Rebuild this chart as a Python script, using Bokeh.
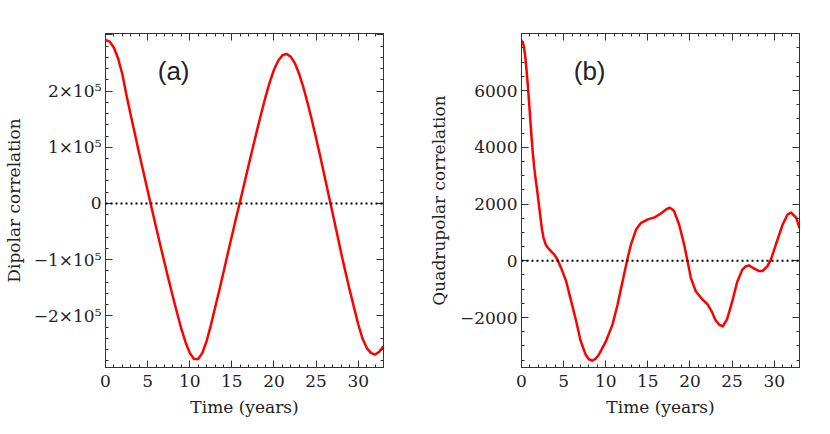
from bokeh.plotting import figure
from bokeh.layouts import row
from bokeh.models import (Range1d, LinearAxis, SingleIntervalTicker, CustomJSTickFormatter,
                          ColumnDataSource, Span)
from bokeh.core.properties import value
from bokeh.embed import file_html
from bokeh.resources import INLINE

# ---------------- data ----------------
t_dip = [0.0, 0.5, 1.0, 1.5, 2.0, 2.5, 3.0, 3.5, 4.0, 4.5, 5.0, 5.5, 6.0, 6.5, 7.0, 7.5,
         8.0, 8.5, 9.0, 9.5, 10.0, 10.5, 11.0, 11.5, 12.0, 12.5, 13.0, 13.5, 14.0, 14.5,
         15.0, 15.5, 16.0, 16.5, 17.0, 17.5, 18.0, 18.5, 19.0, 19.5, 20.0, 20.5, 21.0,
         21.5, 22.0, 22.5, 23.0, 23.5, 24.0, 24.5, 25.0, 25.5, 26.0, 26.5, 27.0, 27.5,
         28.0, 28.5, 29.0, 29.5, 30.0, 30.5, 31.0, 31.5, 32.0, 32.5, 33.0]
dipolar = [291000, 288000, 277000, 258000, 230000, 192000, 157000, 123000, 89000, 56000,
           23000, -10000, -42000, -74000, -105000, -136000, -166000, -195000, -223000,
           -247000, -266000, -277000, -277000, -266000, -245000, -217000, -186000, -155000,
           -123000, -90000, -58000, -26000, 5000, 37000, 69000, 100000, 131000, 161000,
           190000, 216000, 238000, 254000, 264000, 266000, 261000, 249000, 230000, 206000,
           178000, 148000, 116000, 83000, 49000, 14000, -20000, -55000, -90000, -123000,
           -155000, -185000, -215000, -240000, -257000, -266000, -269000, -264000, -254000]

t_quad = [0.0, 0.15, 0.3, 0.45, 0.6, 0.75, 0.9, 1.05, 1.2, 1.35, 1.5, 1.65, 1.8, 2.0, 2.2,
          2.4, 2.6, 2.8, 3.0, 3.3, 3.6, 3.9, 4.3, 4.7,
          5.3, 5.9, 6.5, 7.0, 7.6, 8.0, 8.4, 8.8, 9.2, 10.0, 10.8, 11.4, 12.0, 12.6, 13.0,
          13.6, 14.2, 15.0, 15.8, 16.5, 17.2, 17.6, 18.1, 18.7, 19.3, 19.7, 20.1, 20.7,
          21.5, 22.1, 22.6, 23.0, 23.5, 23.9, 24.4, 25.0, 25.6, 26.2, 26.6, 27.0, 27.6,
          28.2, 28.6, 29.2, 29.6, 30.2, 31.0, 31.6, 32.0, 32.6, 33.0]
quadrupolar = [7750, 7700, 7520, 7180, 6720, 6180, 5580, 4950, 4330, 3780, 3320, 2940,
               2620, 2150, 1650, 1170, 830, 630, 510, 400, 310,
               220, 20, -250, -720, -1430, -2140, -2800, -3300, -3470, -3520, -3450, -3300,
               -2850, -2250, -1550, -720, 100, 580, 1100, 1340, 1460, 1530, 1660, 1820,
               1870, 1760, 1290, 580, 0, -600, -1080, -1370, -1540, -1800, -2080, -2260,
               -2310, -2060, -1450, -750, -320, -200, -160, -270, -360, -360, -190, 40, 580,
               1280, 1640, 1700, 1520, 1150]

dip_ticks = {300000: "", 200000: "2×10⁵", 100000: "1×10⁵", 0: "0",
             -100000: "−1×10⁵", -200000: "−2×10⁵"}
quad_ticks = {8000: "", 6000: "6000", 4000: "4000", 2000: "2000", 0: "0", -2000: "−2000"}

# ---------------- style ----------------
AX = "#333333"
SERIF = "DejaVu Serif"
FS = "17px"


def style_axis(ax, show_labels=True):
    ax.axis_line_color = AX
    ax.axis_line_width = 1
    ax.major_tick_line_color = AX
    ax.minor_tick_line_color = AX
    ax.major_tick_in = 7
    ax.major_tick_out = 0
    ax.minor_tick_in = 3
    ax.minor_tick_out = 0
    ax.major_label_text_font = SERIF
    ax.major_label_text_font_size = FS
    ax.major_label_text_color = "#222222"
    ax.axis_label_text_font = SERIF
    ax.axis_label_text_font_size = FS
    ax.axis_label_text_font_style = "normal"
    ax.axis_label_text_color = "#222222"
    if not show_labels:
        ax.formatter = CustomJSTickFormatter(code="return ''")
        ax.major_label_standoff = 0


def make_panel(t, y, yr, ytick_int, yminor, overrides, ylabel, tag, tag_x, tag_y,
               left, right, label_standoff):
    p = figure(frame_width=278, frame_height=334, output_backend="svg",
               toolbar_location=None, x_range=Range1d(0, 33), y_range=Range1d(*yr),
               x_axis_location=None, y_axis_location=None,
               min_border_left=left, min_border_right=right,
               min_border_top=33, min_border_bottom=60)
    p.xgrid.visible = False
    p.ygrid.visible = False
    p.outline_line_color = AX
    p.background_fill_color = "white"
    p.border_fill_color = "white"

    xt = SingleIntervalTicker(interval=5, num_minor_ticks=5)
    yt = SingleIntervalTicker(interval=ytick_int, num_minor_ticks=yminor)

    xb = LinearAxis(ticker=xt, axis_label="Time (years)")
    style_axis(xb)
    xb.major_label_standoff = 7
    xb.axis_label_standoff = 7
    p.add_layout(xb, "below")
    xa = LinearAxis(ticker=xt)
    style_axis(xa, False)
    p.add_layout(xa, "above")

    yl = LinearAxis(ticker=yt, axis_label=ylabel)
    style_axis(yl)
    yl.major_label_overrides = overrides
    yl.major_label_standoff = 4
    yl.axis_label_standoff = label_standoff
    p.add_layout(yl, "left")
    yrt = LinearAxis(ticker=yt)
    style_axis(yrt, False)
    p.add_layout(yrt, "right")

    p.add_layout(Span(location=0, dimension="width", line_color="black",
                      line_width=2, line_dash="2 3"))
    src = ColumnDataSource(dict(t=t, v=y))
    p.line("t", "v", source=src, line_color="#ff0000", line_width=2.5,
           line_join="round")
    p.text(x=[tag_x], y=[tag_y], text=[tag], text_font=value("Liberation Sans"),
           text_font_size="26px", text_baseline="middle", text_align="left",
           text_color="#222222")
    return p


p1 = make_panel(t_dip, dipolar, (-292000, 302500), 100000, 5, dip_ticks,
                "Dipolar correlation", "(a)", 6.2, 235000, 105, 30, 7)
p2 = make_panel(t_quad, quadrupolar, (-3760, 8010), 2000, 4, quad_ticks,
                "Quadrupolar correlation", "(b)", 6.2, 6680, 108, 25, 8)

layout = row(p1, p2)
open("out.html", "w").write(file_html(layout, INLINE))
